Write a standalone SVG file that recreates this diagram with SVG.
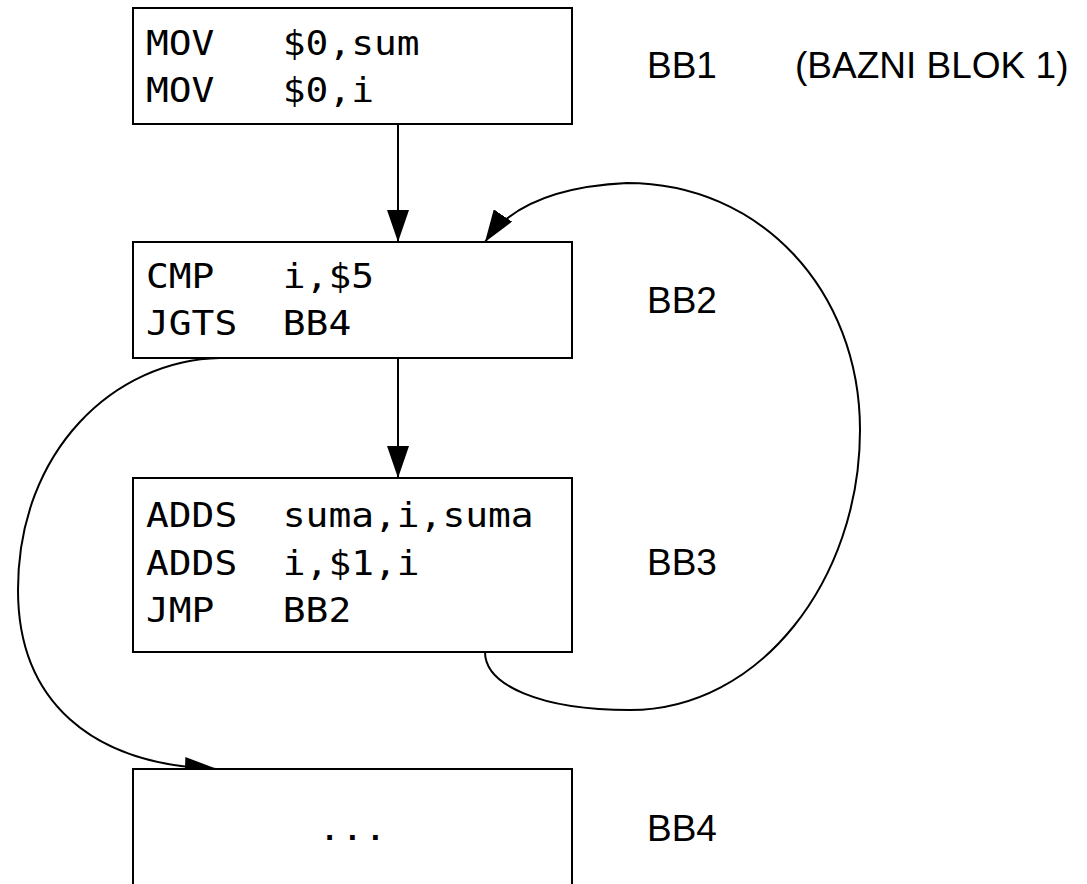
<svg xmlns="http://www.w3.org/2000/svg" width="1087" height="884" viewBox="0 0 1087 884">
  <style>
    .box { fill: #fff; stroke: #000; stroke-width: 2; }
    .code { font-family: "DejaVu Sans Mono", "Liberation Mono", monospace; font-size: 34px; fill: #000; }
    .lbl { font-family: "Liberation Sans", Arial, sans-serif; font-size: 37px; fill: #000; }
    .edge { fill: none; stroke: #000; stroke-width: 2; }
  </style>
  <defs>
    <marker id="arrow" markerUnits="userSpaceOnUse" markerWidth="32" markerHeight="22" viewBox="0 0 32 22" refX="32" refY="11" orient="auto">
      <path d="M0,0 L32,11 L0,22 Z" fill="#000"/>
    </marker>
  </defs>
  <rect width="1087" height="884" fill="#fff"/>

  <!-- connectors -->
  <g id="connectors">
    <line class="edge" x1="398" y1="124" x2="398" y2="242" marker-end="url(#arrow)"/>
    <line class="edge" x1="398" y1="358" x2="398" y2="478" marker-end="url(#arrow)"/>
    <!-- loop back from BB3 to BB2 -->
    <path class="edge" d="M485,652 C485,685 540,710 630,710 C760,710 860,580 860,430 C860,290 760,183 627,183 C565,186 512,202 485,242" marker-end="url(#arrow)"/>
    <!-- conditional jump from BB2 to BB4 -->
    <path class="edge" d="M220,358 C115,360 18,450 18,590 C18,700 90,765 217,769" marker-end="url(#arrow)"/>
  </g>

  <!-- code columns: 22.8px per character cell -->
  <g id="bb1">
    <rect class="box" x="133" y="8" width="439" height="116"/>
    <text class="code" x="146" y="55" textLength="68.4" lengthAdjust="spacingAndGlyphs">MOV</text>
    <text class="code" x="282.8" y="55" textLength="136.8" lengthAdjust="spacingAndGlyphs">$0,sum</text>
    <text class="code" x="146" y="102" textLength="68.4" lengthAdjust="spacingAndGlyphs">MOV</text>
    <text class="code" x="282.8" y="102" textLength="91.2" lengthAdjust="spacingAndGlyphs">$0,i</text>
    <text class="lbl" x="647" y="78">BB1</text>
    <text class="lbl" x="795" y="78">(BAZNI BLOK 1)</text>
  </g>

  <g id="bb2">
    <rect class="box" x="133" y="242" width="439" height="116"/>
    <text class="code" x="146" y="288" textLength="68.4" lengthAdjust="spacingAndGlyphs">CMP</text>
    <text class="code" x="282.8" y="288" textLength="91.2" lengthAdjust="spacingAndGlyphs">i,$5</text>
    <text class="code" x="146" y="335" textLength="91.2" lengthAdjust="spacingAndGlyphs">JGTS</text>
    <text class="code" x="282.8" y="335" textLength="68.4" lengthAdjust="spacingAndGlyphs">BB4</text>
    <text class="lbl" x="647" y="313">BB2</text>
  </g>

  <g id="bb3">
    <rect class="box" x="133" y="478" width="439" height="174"/>
    <text class="code" x="146" y="527" textLength="91.2" lengthAdjust="spacingAndGlyphs">ADDS</text>
    <text class="code" x="282.8" y="527" textLength="250.8" lengthAdjust="spacingAndGlyphs">suma,i,suma</text>
    <text class="code" x="146" y="575" textLength="91.2" lengthAdjust="spacingAndGlyphs">ADDS</text>
    <text class="code" x="282.8" y="575" textLength="136.8" lengthAdjust="spacingAndGlyphs">i,$1,i</text>
    <text class="code" x="146" y="622" textLength="68.4" lengthAdjust="spacingAndGlyphs">JMP</text>
    <text class="code" x="282.8" y="622" textLength="68.4" lengthAdjust="spacingAndGlyphs">BB2</text>
    <text class="lbl" x="647" y="575">BB3</text>
  </g>

  <g id="bb4">
    <rect class="box" x="133" y="769" width="439" height="130"/>
    <text class="code" x="318.3" y="840" textLength="68.4" lengthAdjust="spacingAndGlyphs">...</text>
    <text class="lbl" x="647" y="841">BB4</text>
  </g>
</svg>
